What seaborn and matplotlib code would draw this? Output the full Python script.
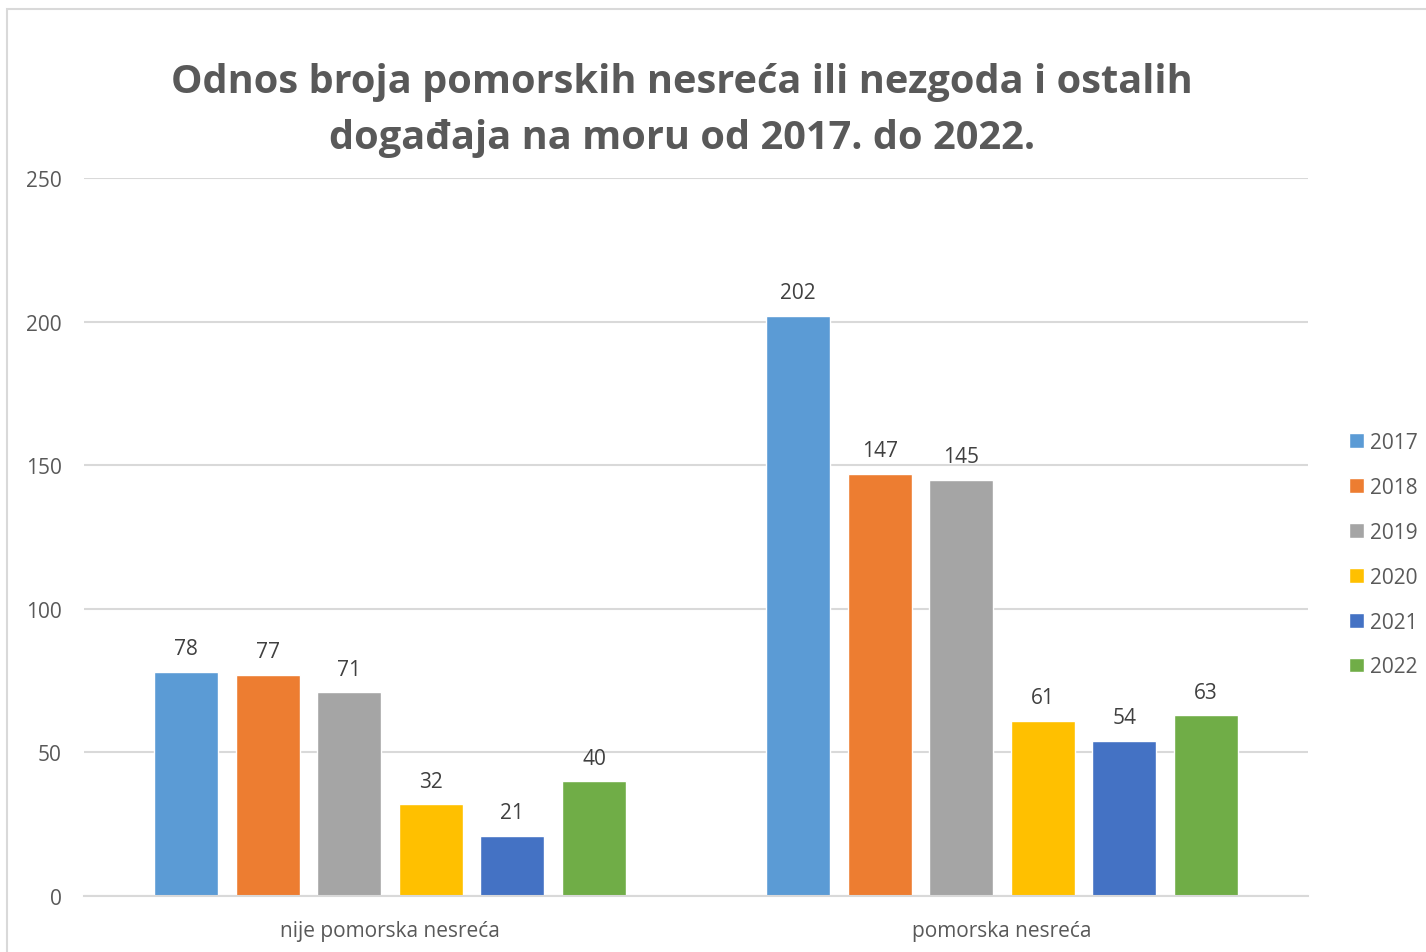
import pandas as pd
import seaborn as sns
import matplotlib.pyplot as plt
from matplotlib.patches import Rectangle

# data
categories = ['nije pomorska nesreća', 'pomorska nesreća']
years = ['2017', '2018', '2019', '2020', '2021', '2022']
nije_pomorska = [78, 77, 71, 32, 21, 40]
pomorska = [202, 147, 145, 61, 54, 63]
colors = ['#5B9BD5', '#ED7D31', '#A5A5A5', '#FFC000', '#4472C4', '#70AD47']

rows = []
for y, a, b in zip(years, nije_pomorska, pomorska):
    rows.append({'Kategorija': categories[0], 'Godina': y, 'Broj': a})
    rows.append({'Kategorija': categories[1], 'Godina': y, 'Broj': b})
df = pd.DataFrame(rows)

sns.set_style('white')
plt.rcParams['font.family'] = ['Open Sans', 'DejaVu Sans']

fig = plt.figure(figsize=(14.26, 9.53), dpi=100)
ax = fig.add_axes([0.0589, 0.0588, 0.8584, 0.7534])

sns.barplot(data=df, x='Kategorija', y='Broj', hue='Godina', order=categories,
            hue_order=years, palette=colors, width=0.8, gap=0.215,
            saturation=1, ax=ax, legend=True)

for cont in ax.containers:
    ax.bar_label(cont, padding=9, fontsize=15, color='#404040')

ax.set_xlim(-0.5, 1.5)
ax.set_ylim(0, 250)
ax.set_yticks([0, 50, 100, 150, 200, 250])
ax.yaxis.grid(True, color='#D9D9D9', linewidth=1.5)
ax.set_axisbelow(True)
for s in ['top', 'right', 'left']:
    ax.spines[s].set_visible(False)
ax.spines['bottom'].set_color('#D9D9D9')
ax.spines['bottom'].set_linewidth(1.5)
ax.tick_params(axis='both', length=0, labelsize=15, labelcolor='#595959')
ax.tick_params(axis='y', pad=16)
ax.tick_params(axis='x', pad=17)
ax.set_xlabel('')
ax.set_ylabel('')

leg = ax.legend(loc='center left', bbox_to_anchor=(0.933, 0.417),
                bbox_transform=fig.transFigure, frameon=False, fontsize=15,
                handlelength=0.7, handleheight=0.7, handletextpad=0.3,
                labelspacing=1.15, labelcolor='#595959')

fig.text(0.478, 0.884, 'Odnos broja pomorskih nesreća ili nezgoda i ostalih\ndogađaja na moru od 2017. do 2022.',
         ha='center', va='center', fontsize=28.6, fontweight='bold',
         color='#595959', linespacing=1.58)

# chart frame (left and top edges visible)
fig.patches.append(Rectangle((0.005, -0.05), 1.2, 1.04, transform=fig.transFigure,
                             fill=False, edgecolor='#D9D9D9', linewidth=1.5))

fig.savefig('out.png', dpi=100)
